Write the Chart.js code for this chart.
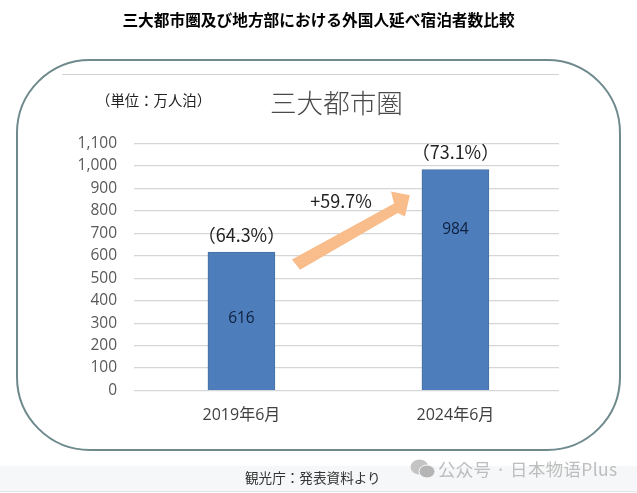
<!DOCTYPE html>
<html lang="ja"><head><meta charset="utf-8">
<script src="https://cdn.jsdelivr.net/npm/chart.js@4"></script>
<style>
html,body{margin:0;padding:0;background:#fff;width:637px;height:493px;overflow:hidden}
#wrap{position:relative;width:637px;height:493px}
#strip{position:absolute;left:0;top:466px;width:637px;height:25px;background:#f6f7f8;border-bottom:1px solid #e3e5e6}
#frame{position:absolute;left:16px;top:59px;width:601px;height:388px;border:2.5px solid #6f8a8c;border-radius:74px;box-sizing:content-box}
canvas{position:absolute;left:0;top:0}
.t{position:absolute;white-space:nowrap;font-family:"Noto Sans CJK JP",sans-serif;line-height:1}
#title{left:0;width:637px;text-align:center;top:12px;font-size:15.7px;font-weight:700;color:#000}
#unit{left:96px;top:93px;font-size:14.4px;color:#222}
#sub{left:270px;top:89px;font-size:26.6px;font-weight:300;color:#4a4a4a}
#src{left:245px;top:471px;font-size:13.6px;color:#333}
#wm{left:438px;top:460px;font-size:17.4px;color:#bdbdbd;letter-spacing:.4px}
svg{position:absolute;left:410px;top:459px}
</style></head><body>
<div id="wrap">
<div id="strip"></div>
<div id="frame"></div>
<canvas id="c" width="637" height="493"></canvas>
<div class="t" id="title">三大都市圏及び地方部における外国人延べ宿泊者数比較</div>
<div class="t" id="unit">（単位：万人泊）</div>
<div class="t" id="sub">三大都市圏</div>
<div class="t" id="src">観光庁：発表資料より</div>
<svg width="26" height="20" viewBox="0 0 26 20"><ellipse cx="9.5" cy="8" rx="9" ry="7.5" fill="#c4c4c4"/><ellipse cx="17" cy="12.5" rx="8" ry="6.5" fill="#b5b5b5" stroke="#f6f7f8"/></svg>
<div class="t" id="wm">公众号 · 日本物语Plus</div>
</div>
<script>
const categories = ['2019年6月', '2024年6月'];
const values = [616, 984];
const shareLabels = ['（64.3%）', '（73.1%）'];
const valueLabelAt = [320, 717];
const yTicks = [0,100,200,300,400,500,600,700,800,900,1000,1100];
const growthLabel = '+59.7%';

const overlay = {
  id: 'overlay',
  afterDatasetsDraw(chart) {
    const {ctx, scales: {x, y}} = chart;
    ctx.save();
    ctx.textAlign = 'center'; ctx.textBaseline = 'middle';
    ctx.fillStyle = '#0f1f3d';
    ctx.font = '15.5px "Open Sans","Noto Sans",sans-serif';
    values.forEach((v, i) => ctx.fillText(String(v), x.getPixelForValue(i), y.getPixelForValue(valueLabelAt[i])));
    ctx.fillStyle = '#222';
    ctx.font = '18px "Noto Sans CJK JP",sans-serif';
    values.forEach((v, i) => ctx.fillText(shareLabels[i], x.getPixelForValue(i), y.getPixelForValue(v) - 17));
    ctx.fillText(growthLabel, x.getPixelForValue(0.465), y.getPixelForValue(842));
    const p = (a, b) => [x.getPixelForValue(a), y.getPixelForValue(b)];
    const pts = [p(0.236, 583), p(0.274, 538), p(0.731, 790), p(0.764, 775), p(0.787, 869), p(0.699, 886), p(0.713, 833)];
    ctx.fillStyle = '#f8bd8b';
    ctx.beginPath();
    pts.forEach((q, i) => i ? ctx.lineTo(q[0], q[1]) : ctx.moveTo(q[0], q[1]));
    ctx.closePath(); ctx.fill();
    ctx.strokeStyle = '#d0d3d4'; ctx.lineWidth = 1;
    ctx.beginPath(); ctx.moveTo(62, 74.5); ctx.lineTo(559, 74.5); ctx.stroke();
    ctx.restore();
  }
};

new Chart(document.getElementById('c'), {
  type: 'bar',
  data: { datasets: [{
    data: values.map((v, i) => ({x: i, y: v})),
    backgroundColor: '#4d7ebb', borderColor: '#47709f', borderWidth: 1, barThickness: 67
  }]},
  options: {
    responsive: false, animation: false,
    layout: { padding: {left: 0, right: 78, top: 143.5, bottom: 0} },
    plugins: { legend: {display: false}, tooltip: {enabled: false} },
    scales: {
      x: { type: 'linear', min: -0.502, max: 1.484, offset: false,
        grid: {display: false}, border: {display: false},
        afterBuildTicks(s) { s.ticks = categories.map((c, i) => ({value: i})); },
        afterFit(s) { s.height = 102.5; },
        ticks: { autoSkip: false, maxRotation: 0, padding: 7, color: '#404040',
          font: {size: 16, family: '"Open Sans","Noto Sans CJK JP",sans-serif'},
          callback: v => categories[v] } },
      y: { min: 0, max: 1100,
        afterBuildTicks(s) { s.ticks = yTicks.map(v => ({value: v})); },
        afterFit(s) { s.width = 134; },
        border: {display: false},
        grid: {color: '#d4d6d7', lineWidth: 1.2, drawTicks: false},
        ticks: { padding: 17, color: '#595959',
          font: {size: 15.5, family: '"Open Sans","Noto Sans",sans-serif'},
          callback: v => v.toLocaleString('en-US') } }
    }
  },
  plugins: [overlay]
});
</script>
</body></html>
